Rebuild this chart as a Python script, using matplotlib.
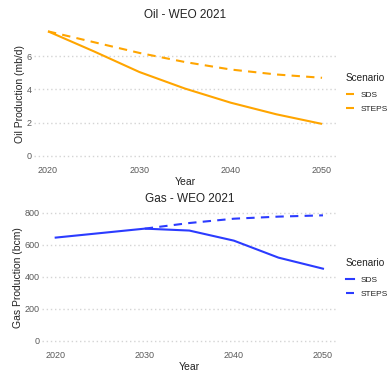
import matplotlib
matplotlib.use("Agg")
import matplotlib.pyplot as plt

years = [2020, 2025, 2030, 2035, 2040, 2045, 2050]
oil_sds = [7.5, 6.3, 5.05, 4.05, 3.2, 2.5, 1.92]
oil_steps = [7.5, 6.85, 6.2, 5.65, 5.2, 4.9, 4.7]

gas_years_sds = [2020, 2025, 2030, 2035, 2040, 2045, 2050]
gas_sds = [644, 672, 700, 688, 625, 519, 450]
gas_years_steps = [2030, 2035, 2040, 2045, 2050]
gas_steps = [700, 735, 762, 775, 783]

oil_ticks = [0, 2, 4, 6]
gas_ticks = [0, 200, 400, 600, 800]
x_ticks = [2020, 2030, 2040, 2050]

ORANGE = "#FFA500"
BLUE = "#2B3BFF"
GRID = "#d4d4d4"
TICK = "#5a5a5a"

plt.rcParams["font.family"] = "Liberation Sans"

fig = plt.figure(figsize=(3.92, 3.75), dpi=100)
ax1 = fig.add_axes([0.0875, 0.568, 0.769, 0.365])
ax2 = fig.add_axes([0.108, 0.0747, 0.750, 0.369])


def style(ax, ticks, ylabel, title):
    for s in ax.spines.values():
        s.set_visible(False)
    ax.set_yticks(ticks)
    ax.set_xticks(x_ticks)
    ax.tick_params(axis="y", length=0, labelsize=6.5, labelcolor=TICK, pad=2)
    ax.tick_params(axis="x", length=0, labelsize=6.5, labelcolor=TICK, pad=3)
    ax.grid(axis="y", linestyle=(0, (1, 2)), color=GRID, linewidth=1)
    ax.grid(axis="x", visible=False)
    ax.set_axisbelow(True)
    ax.set_xlabel("Year", fontsize=7.5, color="#222222", labelpad=1.5)
    ax.set_ylabel(ylabel, fontsize=7.5, color="#222222", labelpad=1)
    ax.set_title(title, fontsize=8.5, color="#222222", pad=5)
    ax.margins(x=0.05, y=0.05)


dash = (0, (4, 3))
ax1.plot(years, oil_sds, color=ORANGE, lw=1.5, label="SDS", solid_capstyle="butt")
ax1.plot(years, oil_steps, color=ORANGE, lw=1.5, linestyle=dash, label="STEPS")
style(ax1, oil_ticks, "Oil Production (mb/d)", "Oil - WEO 2021")
ax1.set_ylim(-0.375, 7.875)

ax2.plot(gas_years_sds, gas_sds, color=BLUE, lw=1.5, label="SDS")
ax2.plot(gas_years_steps, gas_steps, color=BLUE, lw=1.5, linestyle=dash, label="STEPS")
style(ax2, gas_ticks, "Gas Production (bcm)", "Gas - WEO 2021")
ax2.set_ylim(-39, 825)

for ax, y in ((ax1, 1 - 73 / 375), (ax2, 1 - 258 / 375)):
    leg = ax.legend(title="Scenario", loc="upper left",
                    bbox_to_anchor=(346 / 392, y), bbox_transform=fig.transFigure,
                    frameon=False, fontsize=6, title_fontsize=7.2,
                    handlelength=1.0, handletextpad=0.8, labelspacing=0.75,
                    borderaxespad=0, borderpad=0)
    leg._legend_box.align = "left"
    leg._legend_box.sep = 6
    leg.get_title().set_color("#222222")
    for t in leg.get_texts():
        t.set_color("#222222")

fig.savefig("out.png", dpi=100)
